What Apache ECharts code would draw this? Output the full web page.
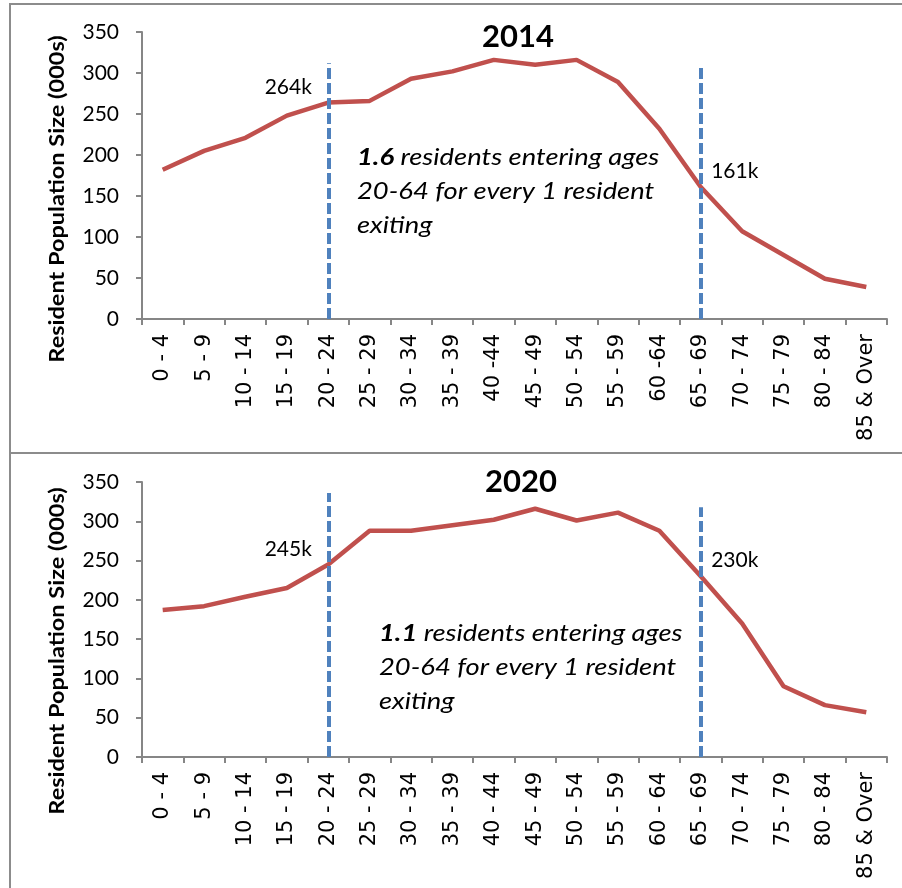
<!DOCTYPE html>
<html>
<head>
<meta charset="utf-8">
<script src="https://cdn.jsdelivr.net/npm/echarts@6/dist/echarts.min.js"></script>
<style>
  html, body { margin: 0; padding: 0; background: #fff; }
  #chart { width: 902px; height: 888px; }
</style>
</head>
<body>
<div id="chart"></div>
<script>
// Age bands (the 2014 panel prints two bands without the inner space)
const ages2014 = ['0 - 4','5 - 9','10 - 14','15 - 19','20 - 24','25 - 29','30 - 34','35 - 39','40 -44','45 - 49','50 - 54','55 - 59','60 -64','65 - 69','70 - 74','75 - 79','80 - 84','85 & Over'];
const ages2020 = ['0 - 4','5 - 9','10 - 14','15 - 19','20 - 24','25 - 29','30 - 34','35 - 39','40 - 44','45 - 49','50 - 54','55 - 59','60 - 64','65 - 69','70 - 74','75 - 79','80 - 84','85 & Over'];

// Resident population by age band, thousands
const pop2014 = [182, 205, 221, 248, 264, 266, 293, 302, 316, 310, 316, 289, 232, 161, 107, 78, 49, 39];
const pop2020 = [187, 192, 204, 215, 245, 288, 288, 295, 302, 316, 301, 311, 288, 230, 170, 90, 66, 57];

// Working-age boundaries: entering (20-24) and exiting (65-69), with marker heights
const entryIndex = 4;
const exitIndex = 13;
const markerTop2014 = [312, 307];
const markerTop2020 = [336, 318];

const yTicks = [0, 50, 100, 150, 200, 250, 300, 350];

const RED = '#C0504D';
const BLUE = '#4F81BD';
const AXIS = '#868686';
const FONT = 'Lato';

function seriesData(values) {
  return values.map((v, i) => {
    if (i === entryIndex) {
      return { value: v, symbolSize: 0, label: { show: true, position: 'inside', offset: [-40, -15] } };
    }
    if (i === exitIndex) {
      return { value: v, symbolSize: 0, label: { show: true, position: 'inside', offset: [34, -16] } };
    }
    return { value: v, symbolSize: 0 };
  });
}

function markers(cats, tops) {
  return [
    [{ coord: [cats[entryIndex], 0] }, { coord: [cats[entryIndex], tops[0]] }],
    [{ coord: [cats[exitIndex], 0] }, { coord: [cats[exitIndex], tops[1]] }]
  ];
}

function xAxis(cats, gridIndex) {
  return {
    type: 'category', gridIndex, data: cats, boundaryGap: true,
    axisLine: { lineStyle: { color: AXIS, width: 2 } },
    axisTick: { show: true, length: 6, lineStyle: { color: AXIS, width: 2 }, alignWithLabel: false },
    axisLabel: { rotate: 90, interval: 0, margin: 15, color: '#000', fontFamily: 'DejaVu Sans', fontSize: 21 },
    splitLine: { show: false }
  };
}

function yAxis(gridIndex) {
  return {
    type: 'value', gridIndex, min: yTicks[0], max: yTicks[yTicks.length - 1], interval: 50,
    axisLine: { show: true, lineStyle: { color: AXIS, width: 2 } },
    axisTick: { show: true, length: 6, lineStyle: { color: AXIS, width: 2 } },
    axisLabel: { margin: 23, color: '#000', fontFamily: FONT, fontSize: 21 },
    splitLine: { show: false }
  };
}

function lineSeries(values, cats, tops, idx) {
  return {
    type: 'line', xAxisIndex: idx, yAxisIndex: idx,
    data: seriesData(values),
    showSymbol: true, symbol: 'circle', symbolSize: 0,
    lineStyle: { color: RED, width: 4.5 },
    itemStyle: { color: RED },
    label: { show: false, color: '#000', fontFamily: FONT, fontSize: 21, formatter: p => p.value + 'k' },
    emphasis: { disabled: true },
    markLine: {
      silent: true, symbol: 'none', animation: false,
      label: { show: false },
      lineStyle: { color: BLUE, width: 4, type: [11, 4] },
      data: markers(cats, tops)
    },
    animation: false
  };
}

const annotationStyle = {
  fill: '#000',
  font: 'italic 23px ' + FONT,
  lineHeight: 34,
  rich: {
    b: { fontFamily: FONT, fontStyle: 'italic', fontWeight: 'bold', fontSize: 23, lineHeight: 34 },
    n: { fontFamily: FONT, fontStyle: 'italic', fontSize: 23, lineHeight: 34 }
  }
};

const axisTitleStyle = {
  text: 'Resident Population Size (000s)', font: 'bold 21px ' + FONT, fill: '#000',
  textAlign: 'center', textVerticalAlign: 'middle'
};

const chart = echarts.init(document.getElementById('chart'), null, { renderer: 'canvas' });
chart.setOption({
  backgroundColor: '#fff',
  animation: false,
  title: [
    { text: '2014', left: 513, top: 16, textAlign: 'center', textStyle: { fontFamily: FONT, fontWeight: 'bold', fontSize: 31, color: '#000' } },
    { text: '2020', left: 516, top: 461, textAlign: 'center', textStyle: { fontFamily: FONT, fontWeight: 'bold', fontSize: 31, color: '#000' } }
  ],
  grid: [
    { left: 142, top: 32, width: 745, height: 287 },
    { left: 142, top: 482, width: 745, height: 275 }
  ],
  xAxis: [xAxis(ages2014, 0), xAxis(ages2020, 1)],
  yAxis: [yAxis(0), yAxis(1)],
  series: [
    lineSeries(pop2014, ages2014, markerTop2014, 0),
    lineSeries(pop2020, ages2020, markerTop2020, 1)
  ],
  graphic: [
    // panel frame
    { type: 'polyline', silent: true, shape: { points: [[902, 4], [10, 4], [10, 888]] }, style: { stroke: '#8c8c8c', lineWidth: 2, fill: null } },
    { type: 'line', silent: true, shape: { x1: 10, y1: 453, x2: 902, y2: 453 }, style: { stroke: '#8c8c8c', lineWidth: 2 } },
    // y-axis titles (stretched along the text direction)
    { type: 'text', silent: true, x: 57, y: 199, rotation: Math.PI / 2, scaleX: 1.12,
      style: Object.assign({}, axisTitleStyle) },
    { type: 'text', silent: true, x: 57, y: 651, rotation: Math.PI / 2, scaleX: 1.12,
      style: Object.assign({}, axisTitleStyle) },
    // ratio notes
    { type: 'text', silent: true, x: 357, y: 141, scaleX: 1.19,
      style: Object.assign({}, annotationStyle, { text: '{b|1.6}{n| residents entering ages}\n{n|20-64 for every 1 resident}\n{n|exiting}' }) },
    { type: 'text', silent: true, x: 379, y: 617, scaleX: 1.19,
      style: Object.assign({}, annotationStyle, { text: '{b|1.1}{n| residents entering ages}\n{n|20-64 for every 1 resident}\n{n|exiting}' }) }
  ]
});
</script>
</body>
</html>
